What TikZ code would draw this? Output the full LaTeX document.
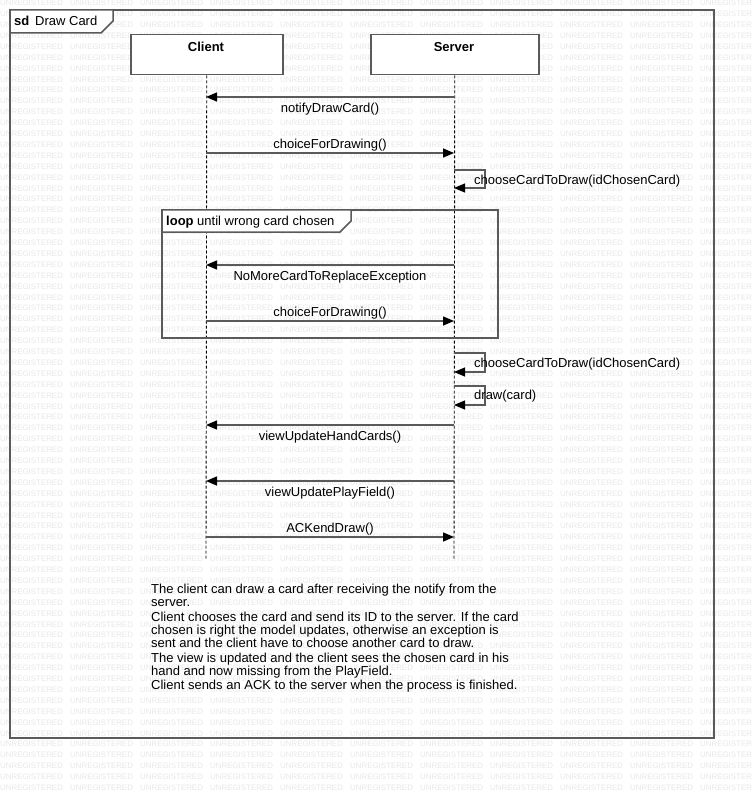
\documentclass[tikz,border=0pt]{standalone}
\usepackage{fontspec}
\setmainfont{Liberation Sans}
\usetikzlibrary{arrows.meta}
\definecolor{edge}{HTML}{5A5A5A}
\definecolor{wmark}{HTML}{E8E8E8}
\begin{document}
\begin{tikzpicture}[x=1pt,y=-1pt,
  txt/.style={font=\fontsize{13}{15}\selectfont, inner sep=0pt},
  bold/.style={font=\fontsize{13}{15}\selectfont\bfseries, inner sep=0pt},
  wm/.style={font=\fontsize{7.9}{8}\selectfont, text=wmark, inner sep=0pt, anchor=west},
  framebox/.style={draw=edge, line width=1.5pt},
  lifebox/.style={draw=edge, line width=1.5pt, fill=white, anchor=north west,
    minimum height=40pt, inner sep=0pt},
  lifeline/.style={draw=black, line width=0.9pt, dash pattern=on 3pt off 2pt},
  msg/.style={draw=edge, line width=1.5pt,
    -{Triangle[length=11pt,width=9pt,color=black,fill=black]}},
  selfmsg/.style={draw=edge, line width=1.1pt,
    -{Triangle[length=11pt,width=9pt,color=black,fill=black]}},
]
\useasboundingbox (0,0) rectangle (754,794);
\fill[white] (0,0) rectangle (754,794);

% tiled evaluation stamp; the last column runs into the page edge
\foreach \r in {0,...,72}{
  \foreach \c in {0,...,9}{
    \node[wm] (wm-\r-\c) at ({70*\c},{3+10.9*\r}) {UNREGISTERED};
  }
  \node[wm] (wm-\r-10) at (700,{3+10.9*\r}) {UNREGISTER};
}

% outer interaction frame
\draw[framebox] (10,10) rectangle (714,738);
\draw[framebox, fill=white] (10,10) -- (113,10) -- (113,21) -- (101,33) -- (10,33) -- cycle;
\node[bold, anchor=west] (sdkw) at (14,21) {sd};
\node[txt, anchor=west] (sdname) at (35,21) {Draw Card};

% participants
\node[lifebox, minimum width=152pt] (client) at (130,34) {};
\node[bold] (clientname) at (206,47) {Client};
\node[lifebox, minimum width=168pt] (server) at (370,34) {};
\node[bold] (servername) at (454,47) {Server};

\coordinate (clientEnd) at (206,560);
\coordinate (serverEnd) at (454,560);
\draw[lifeline] (client.south) -- (clientEnd);
\draw[lifeline] (server.south) -- (serverEnd);

% message anchor points on the lifelines
\foreach \n/\y in {1/97,2/153,5/265,6/321,9/425,10/481,11/537}{
  \coordinate (c\n) at (206,\y);
  \coordinate (s\n) at (454,\y);
}
\coordinate (s3a) at (454,170); \coordinate (s3b) at (454,188);
\coordinate (s7a) at (454,353); \coordinate (s7b) at (454,372);
\coordinate (s8a) at (454,386); \coordinate (s8b) at (454,405);

% messages
\draw[msg] (s1) -- (c1) node[txt, midway, yshift=-12pt] (m1) {notifyDrawCard()};
\draw[msg] (c2) -- (s2) node[txt, midway, yshift=8pt] (m2) {choiceForDrawing()};
\draw[selfmsg] (s3a) -- ++(31,0) -- ++(0,18) -- (s3b);
\node[txt, anchor=west] (m3) at (474,181) {chooseCardToDraw(idChosenCard)};

% loop fragment
\draw[framebox] (162,210) rectangle (498,338);
\draw[framebox, fill=white] (162,210) -- (351,210) -- (351,221) -- (340,232) -- (162,232) -- cycle;
\node[bold, anchor=west] (loopkw) at (166,222) {loop};
\node[txt, anchor=west] (loopguard) at (197,222) {until wrong card chosen};

\draw[msg] (s5) -- (c5) node[txt, midway, yshift=-12pt] (m5) {NoMoreCardToReplaceException};
\draw[msg] (c6) -- (s6) node[txt, midway, yshift=8pt] (m6) {choiceForDrawing()};

\draw[selfmsg] (s7a) -- ++(31,0) -- ++(0,19) -- (s7b);
\node[txt, anchor=west] (m7) at (474,364) {chooseCardToDraw(idChosenCard)};
\draw[selfmsg] (s8a) -- ++(31,0) -- ++(0,19) -- (s8b);
\node[txt, anchor=west] (m8) at (474,396) {draw(card)};

\draw[msg] (s9) -- (c9) node[txt, midway, yshift=-12pt] (m9) {viewUpdateHandCards()};
\draw[msg] (s10) -- (c10) node[txt, midway, yshift=-12pt] (m10) {viewUpdatePlayField()};
\draw[msg] (c11) -- (s11) node[txt, midway, yshift=8pt] (m11) {ACKendDraw()};

% description
\node[inner sep=0pt, anchor=north west, align=left,
      font=\fontsize{13}{13.3}\selectfont] (note) at (151,584) {%
The client can draw a card after receiving the notify from the\\
server.\\[1pt]
Client chooses the card and send its ID to the server. If the card\\
chosen is right the model updates, otherwise an exception is\\
sent and the client have to choose another card to draw.\\[1pt]
The view is updated and the client sees the chosen card in his\\
hand and now missing from the PlayField.\\[1pt]
Client sends an ACK to the server when the process is finished.};
\end{tikzpicture}
\end{document}
